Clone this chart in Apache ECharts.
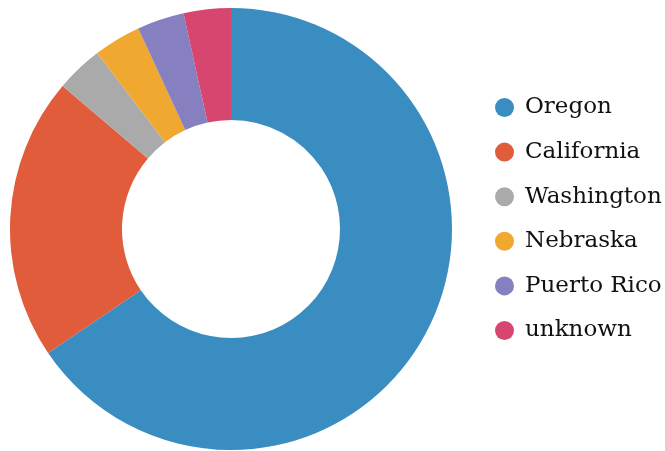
<!DOCTYPE html>
<html><head><meta charset="utf-8">
<script src="https://cdn.jsdelivr.net/npm/echarts@6/dist/echarts.min.js"></script>
<style>html,body{margin:0;padding:0;background:#fff}#c{width:665px;height:451px}</style>
</head><body><div id="c"></div>
<script>
const categories = ["Oregon", "California", "Washington", "Nebraska", "Puerto Rico", "unknown"];
const values = [19, 6, 1, 1, 1, 1];
const colors = ["#3a8dc1", "#e05c3b", "#aaaaaa", "#f0a830", "#8680c0", "#d6466f"];

const chart = echarts.init(document.getElementById('c'), null, {renderer: 'canvas'});
chart.setOption({
  animation: false,
  color: colors,
  legend: {
    orient: 'vertical',
    left: 490,
    top: 91,
    icon: 'circle',
    itemWidth: 19,
    itemHeight: 19,
    itemGap: 21.6,
    textStyle: {fontFamily: 'DejaVu Serif', fontSize: 23, color: '#111', padding: [0, 0, 0, 6]},
    data: categories
  },
  series: [{
    type: 'pie',
    center: [231, 229],
    radius: [109, 221],
    startAngle: 90,
    clockwise: true,
    label: {show: false},
    labelLine: {show: false},
    data: categories.map((n, i) => ({name: n, value: values[i]}))
  }]
});
</script></body></html>
